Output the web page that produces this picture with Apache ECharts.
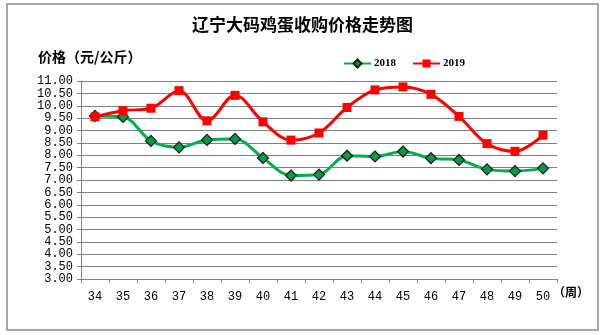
<!DOCTYPE html>
<html><head><meta charset="utf-8">
<script src="https://cdn.jsdelivr.net/npm/echarts@6/dist/echarts.min.js"></script>
<style>html,body{margin:0;padding:0;background:#fff}#c{width:605px;height:335px}</style>
</head><body><div id="c"></div>
<script>
const weeks = ['34','35','36','37','38','39','40','41','42','43','44','45','46','47','48','49','50'];
const price2018 = [9.59,9.55,8.58,8.32,8.62,8.66,7.89,7.18,7.22,7.98,7.95,8.15,7.88,7.81,7.43,7.36,7.47];
const price2019 = [9.55,9.80,9.90,10.61,9.39,10.42,9.35,8.61,8.90,9.93,10.64,10.76,10.46,9.57,8.47,8.16,8.81];
const title = '辽宁大码鸡蛋收购价格走势图';
const yName = '价格（元/公斤）';
const xName = '（周）';

const chart = echarts.init(document.getElementById('c'), null, {renderer:'canvas'});
const cjk = '"Noto Sans CJK SC", sans-serif';
chart.setOption({
  animation:false,
  backgroundColor:'#fff',
  title:{text:title,left:'center',top:11,textStyle:{fontFamily:cjk,fontSize:17,fontWeight:'bold',color:'#000'}},
  graphic:[
    {type:'rect',shape:{x:7,y:4,width:591,height:326},style:{fill:'none',stroke:'#8c8c8c',lineWidth:1.5},z:-1},
    {type:'text',left:38,top:50,style:{text:yName,fontFamily:cjk,fontSize:14,fontWeight:'bold',fill:'#000'}},
    {type:'text',left:553,top:286,style:{text:xName,fontFamily:cjk,fontSize:12,fontWeight:'bold',fill:'#000'}}
  ],
  legend:{left:338,top:53,itemWidth:27,itemHeight:10,itemGap:16,
    textStyle:{fontFamily:'"Liberation Serif", serif',fontSize:11,fontWeight:'bold',color:'#000',padding:[0,0,0,-2]},
    data:['2018','2019']},
  grid:{left:81,right:48,top:81,bottom:56},
  xAxis:{type:'category',data:weeks,boundaryGap:true,
    axisLine:{lineStyle:{color:'#808080',width:1}},
    axisTick:{show:true,length:4,inside:false,lineStyle:{color:'#808080'}},
    axisLabel:{margin:12,fontFamily:'"Liberation Mono", monospace',fontSize:12,color:'#000'}},
  yAxis:{type:'value',min:3,max:11,interval:0.5,
    axisLine:{show:true,lineStyle:{color:'#808080',width:1}},
    axisTick:{show:true,length:4,lineStyle:{color:'#808080'}},
    splitLine:{lineStyle:{color:'#808080',width:1}},
    axisLabel:{margin:8,fontFamily:'"Liberation Mono", monospace',fontSize:12,color:'#000',formatter:v=>v.toFixed(2)}},
  series:[
    {name:'2018',type:'line',data:price2018,smooth:0.35,symbol:'diamond',symbolSize:11,
      lineStyle:{color:'#00b050',width:3},
      itemStyle:{color:'#009944',borderColor:'#1a1a1a',borderWidth:1.2},z:2},
    {name:'2019',type:'line',data:price2019,smooth:0.35,symbol:'rect',symbolSize:9,
      lineStyle:{color:'#ff0000',width:3},
      itemStyle:{color:'#ff0000',borderColor:'#ff0000',borderWidth:0},z:3}
  ]
});
</script></body></html>
